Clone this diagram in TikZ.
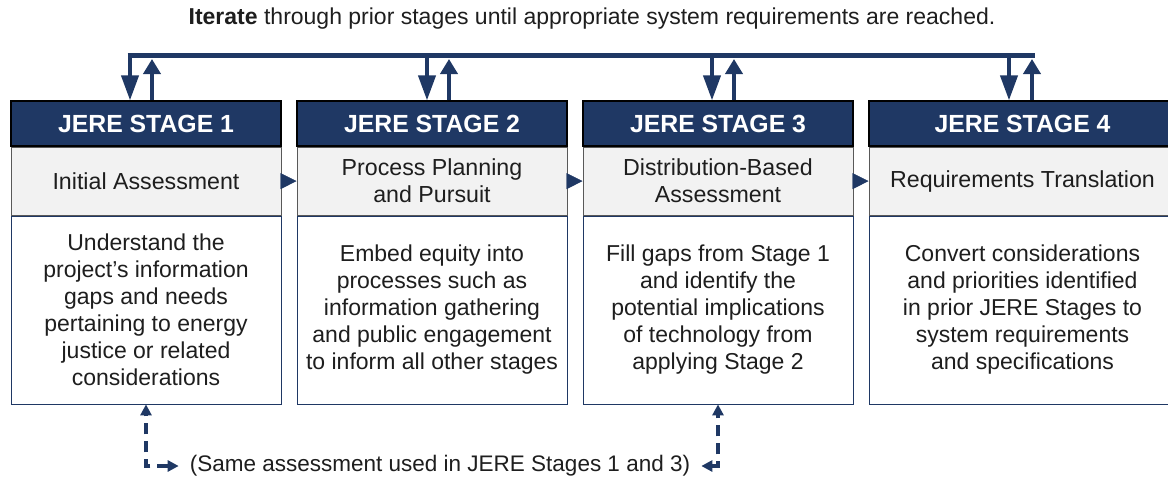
\documentclass[tikz,border=0pt]{standalone}
\usepackage{fontspec}
\setmainfont{Liberation Sans}
\usetikzlibrary{arrows.meta,positioning}
\definecolor{jerenavy}{RGB}{31,56,100}
\definecolor{jeregray}{RGB}{242,242,242}
\definecolor{jeretext}{RGB}{30,30,30}

\begin{document}
\begin{tikzpicture}[x=1pt,y=-1pt,text=jeretext,
	stagehead/.style={draw=black,line width=1.2pt,fill=jerenavy,text=white,minimum width=270pt,minimum height=45pt,inner sep=0pt,font=\fontsize{24.8}{27}\selectfont\bfseries},
	stagetitle/.style={draw=black!65,line width=1pt,fill=jeregray,minimum width=270pt,minimum height=68pt,inner sep=0pt,align=center,font=\fontsize{23.2}{27}\selectfont},
	stagebody/.style={draw=jerenavy,line width=0.8pt,fill=white,minimum width=270pt,minimum height=188pt,inner sep=0pt,align=center,font=\fontsize{23}{27}\selectfont},
	iterline/.style={jerenavy,line width=5pt},
	iterdown/.style={jerenavy,line width=4pt,-{Triangle[length=25pt,width=17pt]}},
	iterup/.style={jerenavy,line width=4pt,-{Triangle[length=15pt,width=17pt]}},
	stepto/.style={jerenavy,-{Triangle[length=16pt,width=16pt]}},
	samelink/.style={jerenavy,line width=3.5pt,dash pattern=on 11pt off 7pt,{Triangle[length=11pt,width=11pt]}-{Triangle[length=11pt,width=11pt]}}]
	\useasboundingbox (0,0) rectangle (1168,479);
	\clip (0,0) rectangle (1168,479);
	% iterate note
	\node[font=\fontsize{23}{27}\selectfont] (iter) at (592,19) {\textbf{Iterate} through prior stages until appropriate system requirements are reached.};
	% stage 1
	\node[stagehead] (hd1) at (146,123.5) {JERE STAGE 1};
	\node[stagetitle,below=0pt of hd1] (ti1) {Initial Assessment};
	\node[stagebody,below=0pt of ti1] (bd1) {Understand the\\project’s information\\gaps and needs\\pertaining to energy\\justice or related\\considerations};
	% stage 2
	\node[stagehead] (hd2) at (432,123.5) {JERE STAGE 2};
	\node[stagetitle,below=0pt of hd2] (ti2) {Process Planning\\and Pursuit};
	\node[stagebody,below=0pt of ti2] (bd2) {Embed equity into\\processes such as\\information gathering\\and public engagement\\to inform all other stages};
	% stage 3
	\node[stagehead] (hd3) at (718,123.5) {JERE STAGE 3};
	\node[stagetitle,below=0pt of hd3] (ti3) {Distribution-Based\\Assessment};
	\node[stagebody,below=0pt of ti3] (bd3) {Fill gaps from Stage 1\\and identify the\\potential implications\\of technology from\\applying Stage 2};
	% stage 4 (runs off the page)
	\node[stagehead,minimum width=307pt] (hd4) at (1022.5,123.5) {JERE STAGE 4};
	\node[stagetitle,minimum width=307pt,below=0pt of hd4] (ti4) {Requirements Translation};
	\node[stagebody,minimum width=307pt,below=0pt of ti4] (bd4) {Convert considerations\\and priorities identified\\in prior JERE Stages to\\system requirements\\and specifications};
	% stage to stage
	\draw[stepto] (ti1.east) -- (ti2.west);
	\draw[stepto] (ti2.east) -- (ti3.west);
	\draw[stepto] (ti3.east) -- (ti4.west);
	% iterate loop
	\coordinate (barw) at (127.5,55.5);
	\coordinate (bare) at (1034.5,55.5);
	\draw[iterline] (barw) -- (bare);
	\coordinate (dn1) at (130,55.5);
	\coordinate (dn2) at (427,55.5);
	\coordinate (dn3) at (712,55.5);
	\coordinate (dn4) at (1009,55.5);
	\coordinate (up1) at (152,59);
	\coordinate (up2) at (449,59);
	\coordinate (up3) at (734,59);
	\coordinate (up4) at (1032,59);
	\draw[iterdown] (dn1) -- (dn1 |- hd1.north);
	\draw[iterdown] (dn2) -- (dn2 |- hd2.north);
	\draw[iterdown] (dn3) -- (dn3 |- hd3.north);
	\draw[iterdown] (dn4) -- (dn4 |- hd4.north);
	\draw[iterup] (up1 |- hd1.north) -- (up1);
	\draw[iterup] (up2 |- hd2.north) -- (up2);
	\draw[iterup] (up3 |- hd3.north) -- (up3);
	\draw[iterup] (up4 |- hd4.north) -- (up4);
	% shared assessment
	\node[font=\fontsize{22.5}{27}\selectfont,inner xsep=11pt] (same) at (440,466) {(Same assessment used in JERE Stages 1 and 3)};
	\draw[samelink] (same.west) -| (bd1.south);
	\draw[samelink] (same.east) -| (bd3.south);
\end{tikzpicture}
\end{document}
